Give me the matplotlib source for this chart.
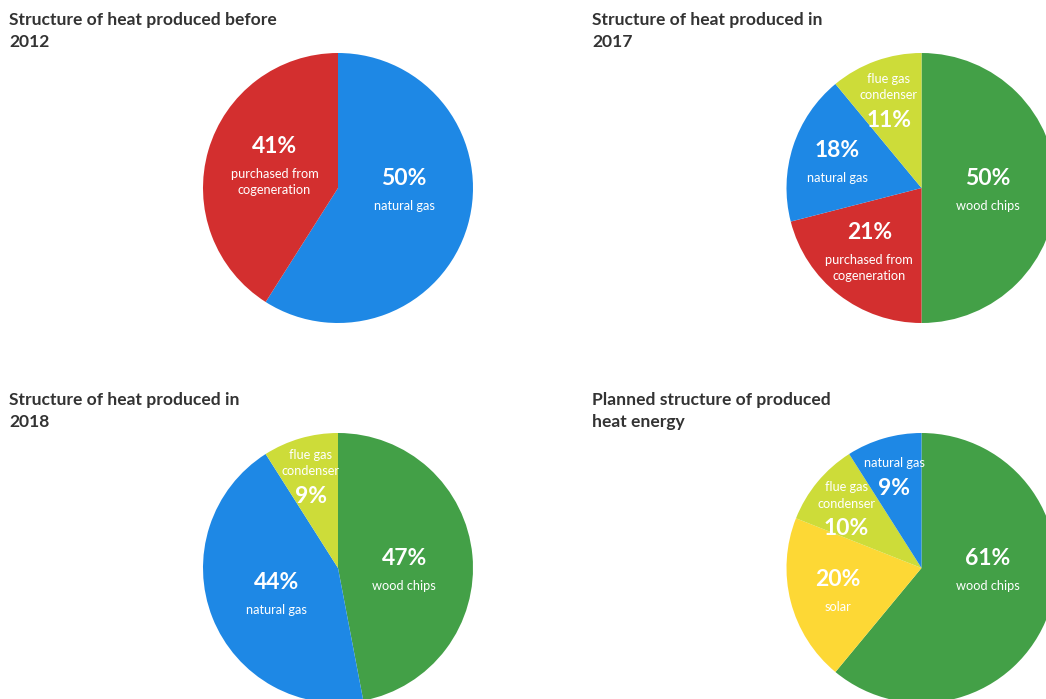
import numpy as np
import matplotlib.pyplot as plt

plt.rcParams['font.family'] = ['Lato', 'DejaVu Sans']

# ---- data -------------------------------------------------------------
titles = ['Structure of heat produced before\n2012',
          'Structure of heat produced in\n2017',
          'Structure of heat produced in\n2018',
          'Planned structure of produced\nheat energy']

names_2012 = ['natural gas', 'purchased from\ncogeneration']
shares_2012 = [59, 41]            # wedge sizes as drawn in the picture
labels_2012 = ['50%', '41%']      # text as printed on the picture

names_2017 = ['wood chips', 'purchased from\ncogeneration', 'natural gas', 'flue gas\ncondenser']
shares_2017 = [50, 21, 18, 11]
labels_2017 = ['50%', '21%', '18%', '11%']

names_2018 = ['wood chips', 'natural gas', 'flue gas\ncondenser']
shares_2018 = [47, 44, 9]
labels_2018 = ['47%', '44%', '9%']

names_plan = ['wood chips', 'solar', 'flue gas\ncondenser', 'natural gas']
shares_plan = [61, 20, 10, 9]
labels_plan = ['61%', '20%', '10%', '9%']

colors = {'natural gas': '#1e88e5',
          'purchased from\ncogeneration': '#d32f2f',
          'wood chips': '#43a047',
          'flue gas\ncondenser': '#cddc39',
          'solar': '#fdd835'}

# ---- layout -----------------------------------------------------------
W, H = 1046, 699
R = 135  # pie radius in pixels
centers = [(338, 188), (921.5, 188), (338, 568), (921.5, 568)]
title_x = [9, 592, 9, 592]
title_y = [25, 25, 405, 405]

fig = plt.figure(figsize=(W / 100, H / 100), dpi=100)
fig.patch.set_facecolor('white')

charts = [(names_2012, shares_2012, labels_2012),
          (names_2017, shares_2017, labels_2017),
          (names_2018, shares_2018, labels_2018),
          (names_plan, shares_plan, labels_plan)]

px = 1.0 / R


def draw_label(ax, x, y, pct, name, name_first):
    lines = name.split('\n')
    items = []
    shift = -1
    if name_first:
        off = 0
        for ln in lines:
            items.append((off, ln, False))
            off += 16.5
        items.append((off - 16.5 + 25, pct, True))
        shift = 2
    else:
        items.append((0, pct, True))
        for i, ln in enumerate(lines):
            items.append((27.5 + 16 * i, ln, False))
        if len(lines) == 1:
            shift = 4
    mid = (items[0][0] + items[-1][0]) / 2.0
    for off, txt, big in items:
        yy = y - (off - mid + shift) * px
        if big:
            ax.text(x, yy, txt, ha='center', va='center', color='white',
                    fontsize=16.5, fontweight='bold')
        else:
            ax.text(x, yy, txt, ha='center', va='center', color='white',
                    fontsize=9.2)


for k, (names, shares, labels) in enumerate(charts):
    cx, cy = centers[k]
    ax = fig.add_axes([(cx - R) / W, (H - cy - R) / H, 2 * R / W, 2 * R / H])
    wedges, _ = ax.pie(shares, colors=[colors[n] for n in names],
                       startangle=90, counterclock=False, radius=1,
                       wedgeprops=dict(linewidth=0))
    ax.set_xlim(-1, 1)
    ax.set_ylim(-1, 1)
    ax.axis('off')

    total = float(sum(shares))
    for w, s, lab, name in zip(wedges, shares, labels, names):
        f = s / total
        ang = np.deg2rad((w.theta1 + w.theta2) / 2.0)
        deg = np.rad2deg(ang) % 360
        if f >= 0.45:
            ang = 0.0 if np.cos(ang) > 0 else np.pi
        rf = max(0.49, 0.8 - 0.8 * f)
        x, y = rf * np.cos(ang), rf * np.sin(ang)
        draw_label(ax, x, y, lab, name, 90 < deg < 150)

    t1, t2 = titles[k].split('\n')
    for j, line in enumerate([t1, t2]):
        fig.text(title_x[k] / W, 1 - (title_y[k] + 22 * j) / H, line,
                 ha='left', va='baseline', fontsize=12.6, fontweight='bold',
                 color='#333333')

fig.savefig('out.png', dpi=100, facecolor='white')
